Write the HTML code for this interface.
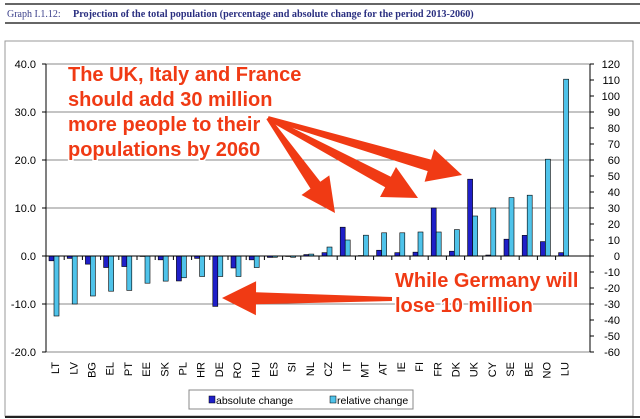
<!DOCTYPE html>
<html><head><meta charset="utf-8"><style>
body{margin:0;background:#fff;width:640px;height:419px;overflow:hidden;font-family:"Liberation Sans",sans-serif}
svg{display:block}
</style></head><body>
<svg id="c" width="640" height="419" xmlns="http://www.w3.org/2000/svg">
<line x1="5" y1="4" x2="640" y2="4" stroke="#333" stroke-width="1.5"/>
<text x="7" y="17" font-family="Liberation Serif,serif" font-size="10" fill="#3a3f8a">Graph I.1.12:</text>
<text x="73" y="17" font-family="Liberation Serif,serif" font-size="10.2" font-weight="bold" fill="#2a2f80">Projection of the total population (percentage and absolute change for the period 2013-2060)</text>
<line x1="5" y1="23" x2="640" y2="23" stroke="#333" stroke-width="1.5"/>
<rect x="5" y="41" width="628" height="375" fill="none" stroke="#999"/>
<line x1="5" y1="417" x2="640" y2="417" stroke="#222" stroke-width="2"/>
<g id="grid"></g><g id="bars"></g><g id="axes"></g><g id="ann"></g>
<rect x="189" y="390" width="224" height="19" fill="#fff" stroke="#888"/>
<rect x="209" y="396" width="6" height="7" fill="#1f1fc8" stroke="#000" stroke-width="0.5"/>
<text x="216" y="404" font-size="10.5" fill="#000">absolute change</text>
<rect x="330" y="396" width="6" height="7" fill="#4fc3ea" stroke="#000" stroke-width="0.5"/>
<text x="337" y="404" font-size="10.5" fill="#000">relative change</text>
</svg>
<script>
const categories=["LT","LV","BG","EL","PT","EE","SK","PL","HR","DE","RO","HU","ES","SI","NL","CZ","IT","MT","AT","IE","FI","FR","DK","UK","CY","SE","BE","NO","LU"];
const absoluteChange=[-1.0,-0.5,-1.7,-2.4,-2.2,-0.1,-0.8,-5.2,-0.5,-10.5,-2.5,-0.8,-0.3,-0.1,0.3,0.7,6.0,0.1,1.2,0.7,0.8,10.0,1.0,16.0,0.2,3.5,4.3,3.0,0.7];
const relativeChange=[-37.5,-30,-25,-22,-21.5,-17,-15.7,-13.6,-12.8,-12.8,-12.8,-7.2,-0.8,-0.8,1.2,5.6,10,13,14.5,14.5,15,15,16.5,25,30,36.5,38,60.5,110.5];
const leftTicks=[40,30,20,10,0,-10,-20];
const rightTicks=[120,110,100,90,80,70,60,50,40,30,20,10,0,-10,-20,-30,-40,-50,-60];
const NS="http://www.w3.org/2000/svg";
const X0=46,X1=590,BAND=18.2;
function yL(v){return 256-v*4.8;}
function yR(v){return 256-v*1.6;}
function xC(i){return X0+BAND*i+BAND/2;}
function mk(tag,attrs,parent){const e=document.createElementNS(NS,tag);for(const k in attrs)e.setAttribute(k,attrs[k]);parent.appendChild(e);return e;}
const grid=document.getElementById('grid'),bars=document.getElementById('bars'),axes=document.getElementById('axes'),ann=document.getElementById('ann');
leftTicks.forEach(t=>{
  const l=mk('line',{x1:X0,x2:X1,y1:yL(t),y2:yL(t),stroke:'#888','stroke-width':1},grid);
  
  
  const tx=mk('text',{x:36,y:yL(t)+4,'font-size':11,'text-anchor':'end',fill:'#000'},axes);
  tx.textContent=t.toFixed(1);
  
  
  mk('line',{x1:X0-4,x2:X0,y1:yL(t),y2:yL(t),stroke:'#000'},axes);
});
rightTicks.forEach(t=>{
  const tx=mk('text',{x:620,y:yR(t)+4,'font-size':11,'text-anchor':'end',fill:'#000'},axes);
  tx.textContent=t;
  
  
  mk('line',{x1:X1,x2:X1+4,y1:yR(t),y2:yR(t),stroke:'#000'},axes);
});
mk('line',{x1:X0,x2:X0,y1:yL(40),y2:yL(-20),stroke:'#000'},axes);
mk('line',{x1:X1,x2:X1,y1:yR(120),y2:yR(-60),stroke:'#000'},axes);
mk('line',{x1:X0,x2:X1,y1:256,y2:256,stroke:'#000'},axes);
categories.forEach((c,i)=>{
  const x=X0+BAND*i;
  mk('line',{x1:x,x2:x,y1:256,y2:260,stroke:'#000'},axes);
  const a=absoluteChange[i],r=relativeChange[i];
  const b1=mk('rect',{x:x+3,y:Math.min(yL(a),256),width:5,height:Math.abs(yL(a)-256),fill:'#1f1fc8',stroke:'#000','stroke-width':0.6},bars);
  
  
  const b2=mk('rect',{x:x+8,y:Math.min(yR(r),256),width:5,height:Math.abs(yR(r)-256),fill:'#4fc3ea',stroke:'#000','stroke-width':0.6},bars);
  
  
  const tx=mk('text',{x:0,y:0,'font-size':11,'text-anchor':'end',fill:'#000',transform:`translate(${xC(i)+4},362) rotate(-90)`},axes);
  tx.textContent=c;
  
  
});
function arrow(x1,y1,x2,y2,name){
  const dx=x2-x1,dy=y2-y1,L=Math.hypot(dx,dy),ux=dx/L,uy=dy/L,px=-uy,py=ux;
  const hl=34,hw=17,sw0=2,sw1=6;
  const bx=x2-ux*hl,by=y2-uy*hl;
  const pts=[[x1+px*sw0,y1+py*sw0],[bx+px*sw1,by+py*sw1],[bx+px*hw,by+py*hw],[x2,y2],[bx-px*hw,by-py*hw],[bx-px*sw1,by-py*sw1],[x1-px*sw0,y1-py*sw0]];
  const p=mk('polygon',{points:pts.map(q=>q.join(',')).join(' '),fill:'#f03a14'},ann);
  
  
}
arrow(268,118,335,213,'arrow-italy');
arrow(268,118,418,198,'arrow-france');
arrow(268,118,462,175,'arrow-uk');
arrow(392,299,222,298,'arrow-germany');
function label(lines,x,y0,dy,name){
  lines.forEach((s,k)=>{
    const t=mk('text',{x:x,y:y0+k*dy,'font-size':20,'font-weight':'bold',fill:'#f03a14',stroke:'#fff','stroke-width':3,'paint-order':'stroke'},ann);
    t.textContent=s;
    
    
  });
}
label(["The UK, Italy and France","should add 30 million","more people to their","populations by 2060"],68,81,25,'annotation-growth');
label(["While Germany will","lose 10 million"],395,287,25,'annotation-germany');
</script>
</body></html>
